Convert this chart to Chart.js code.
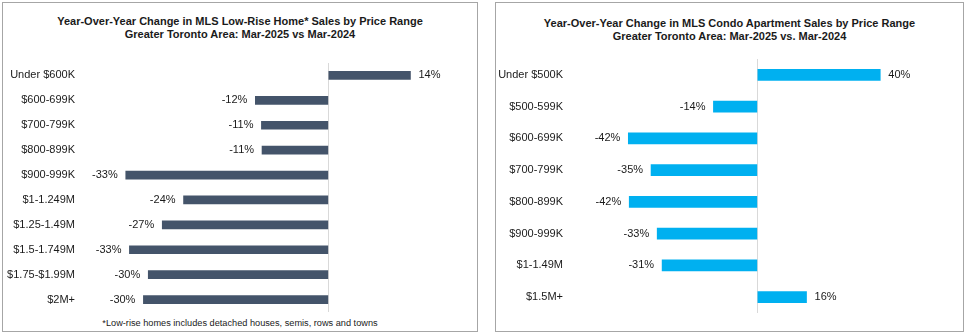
<!DOCTYPE html>
<html>
<head>
<meta charset="utf-8">
<script src="https://cdn.jsdelivr.net/npm/chart.js@4/dist/chart.umd.min.js"></script>
<style>
  html, body { margin: 0; padding: 0; background: #ffffff; }
  body { width: 972px; height: 336px; position: relative; overflow: hidden; font-family: "Liberation Sans", Arial, sans-serif; color: #1a1a1a; }
  .panel { position: absolute; border: 1px solid #a6a6a6; box-sizing: border-box; background: #fff; }
  .title { position: absolute; left: 0; right: 0; text-align: center; font-weight: bold; font-size: 11px; line-height: 12.5px; }
  .note { position: absolute; left: 0; right: 0; text-align: center; font-size: 9.2px; }
  canvas { position: absolute; }
</style>
</head>
<body>
<div class="panel" id="p1" style="left:2px; top:2px; width:476px; height:330px;">
  <div class="title" style="top:12px;">Year-Over-Year Change in MLS Low-Rise Home* Sales by Price Range<br>Greater Toronto Area: Mar-2025 vs Mar-2024</div>
  <div class="note" style="top:315px;">*Low-rise homes includes detached houses, semis, rows and towns</div>
</div>
<div class="panel" id="p2" style="left:495px; top:2px; width:469px; height:330px;">
  <div class="title" style="top:14px;">Year-Over-Year Change in MLS Condo Apartment Sales by Price Range<br>Greater Toronto Area: Mar-2025 vs. Mar-2024</div>
</div>
<canvas id="c1" width="474" height="249" style="left:3px; top:63px;"></canvas>
<canvas id="c2" width="466" height="254" style="left:496px; top:59px;"></canvas>
<script>
const lowRiseCategories = ["Under $600K", "$600-699K", "$700-799K", "$800-899K", "$900-999K", "$1-1.249M", "$1.25-1.49M", "$1.5-1.749M", "$1.75-$1.99M", "$2M+"];
const lowRiseValues = [13.5, -12.0, -11.0, -10.9, -33.3, -23.8, -27.3, -32.7, -29.6, -30.4];

const condoCategories = ["Under $500K", "$500-599K", "$600-699K", "$700-799K", "$800-899K", "$900-999K", "$1-1.49M", "$1.5M+"];
const condoValues = [40.0, -14.3, -42.0, -34.6, -41.7, -32.6, -31.0, 16.0];

const valueLabels = {
  id: 'valueLabels',
  afterDatasetsDraw(chart) {
    const ctx = chart.ctx;
    const meta = chart.getDatasetMeta(0);
    const data = chart.data.datasets[0].data;
    ctx.save();
    ctx.font = '11px "Liberation Sans", Arial, sans-serif';
    ctx.fillStyle = '#1a1a1a';
    ctx.textBaseline = 'middle';
    meta.data.forEach((bar, i) => {
      const v = data[i];
      const txt = Math.round(v) + '%';
      if (v >= 0) { ctx.textAlign = 'left'; ctx.fillText(txt, bar.x + 8, bar.y); }
      else { ctx.textAlign = 'right'; ctx.fillText(txt, bar.x - 8, bar.y); }
    });
    ctx.restore();
  }
};

function noPad(s) { s.paddingTop = 0; s.paddingBottom = 0; s.paddingLeft = 0; s.paddingRight = 0; }

function makeChart(id, cats, vals, color, thickness, xmin, xmax, axisW, padRight) {
  return new Chart(document.getElementById(id), {
    type: 'bar',
    data: { labels: cats, datasets: [{ data: vals, backgroundColor: color, borderWidth: 0, barThickness: thickness }] },
    options: {
      indexAxis: 'y',
      responsive: false,
      animation: false,
      devicePixelRatio: 1,
      layout: { autoPadding: false, padding: { left: 0, right: padRight, top: 0, bottom: 0 } },
      plugins: { legend: { display: false }, title: { display: false }, tooltip: { enabled: false } },
      scales: {
        x: {
          min: xmin, max: xmax,
          ticks: { display: false, stepSize: 10 },
          border: { display: false },
          grid: { drawTicks: false, lineWidth: 1, color: (c) => (c.tick && c.tick.value === 0) ? '#d9d9d9' : 'rgba(0,0,0,0)' },
          afterFit: (s) => { s.height = 0; noPad(s); }
        },
        y: {
          ticks: { padding: 10, color: '#1a1a1a', font: { family: '"Liberation Sans", Arial, sans-serif', size: 11 } },
          border: { display: false },
          grid: { display: false, drawTicks: false },
          afterFit: (s) => { s.width = axisW; noPad(s); }
        }
      }
    },
    plugins: [valueLabels]
  });
}

makeChart('c1', lowRiseCategories, lowRiseValues, '#44546a', 8, -40, 20, 82, 27);
makeChart('c2', condoCategories, condoValues, '#00b0f0', 11, -60, 50, 77, 51);
</script>
</body>
</html>
